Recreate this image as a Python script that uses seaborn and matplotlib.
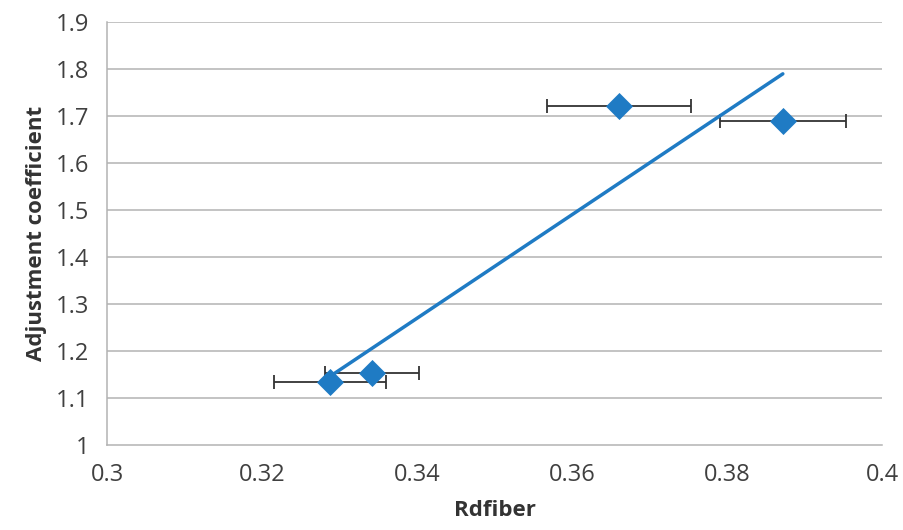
import numpy as np
import pandas as pd
import matplotlib
matplotlib.use("Agg")
import matplotlib.pyplot as plt
import seaborn as sns

rdfiber = [0.3288, 0.3342, 0.3661, 0.3872]
adj_coef = [1.135, 1.153, 1.721, 1.690]
rdfiber_err = [0.0072, 0.0061, 0.0093, 0.0081]

x_ticks = [0.3, 0.32, 0.34, 0.36, 0.38, 0.4]
x_tick_labels = ["0.3", "0.32", "0.34", "0.36", "0.38", "0.4"]
y_ticks = [1.0, 1.1, 1.2, 1.3, 1.4, 1.5, 1.6, 1.7, 1.8, 1.9]
y_tick_labels = ["1", "1.1", "1.2", "1.3", "1.4", "1.5", "1.6", "1.7", "1.8", "1.9"]

df = pd.DataFrame({"Rdfiber": rdfiber, "Adj": adj_coef, "err": rdfiber_err})

sns.set_theme(style="white")
plt.rcParams["font.family"] = ["Open Sans", "DejaVu Sans"]

blue = "#1F7BC4"
grid_c = "#B3B3B3"

fig = plt.figure(figsize=(9.04, 5.30), dpi=100)
ax = fig.add_axes([0.1184, 0.1604, 0.8573, 0.7981])

for yv in y_ticks[1:]:
    ax.axhline(yv, color=grid_c, lw=1.1, zorder=0)

ax.errorbar(df["Rdfiber"], df["Adj"], xerr=df["err"], fmt="none",
            ecolor="#333333", elinewidth=1.3, capsize=5, capthick=1.3, zorder=2)

sns.regplot(data=df, x="Rdfiber", y="Adj", ax=ax, ci=None, truncate=True,
            scatter=False, line_kws=dict(color=blue, lw=2.5, zorder=3))

sns.scatterplot(data=df, x="Rdfiber", y="Adj", ax=ax, marker="D", s=190,
                color=blue, edgecolor=blue, linewidth=0, zorder=4)

ax.set_xlim(0.3, 0.4)
ax.set_ylim(1.0, 1.9)
ax.set_xticks(x_ticks)
ax.set_xticklabels(x_tick_labels)
ax.set_yticks(y_ticks)
ax.set_yticklabels(y_tick_labels)

for s in ["top", "right"]:
    ax.spines[s].set_visible(False)
for s in ["left", "bottom"]:
    ax.spines[s].set_color(grid_c)
    ax.spines[s].set_linewidth(1.1)

ax.tick_params(axis="both", which="major", labelsize=17, colors="#404040",
               length=6, width=1.1, color=grid_c)
ax.tick_params(axis="x", direction="out", pad=7)
ax.tick_params(axis="y", direction="out", pad=7)
ax.grid(False)

ax.set_xlabel("Rdfiber", fontsize=16, fontweight="bold", color="#333333", labelpad=9)
ax.set_ylabel("Adjustment coefficient", fontsize=16, fontweight="bold", color="#333333", labelpad=6)

fig.savefig("out.png", dpi=100)
